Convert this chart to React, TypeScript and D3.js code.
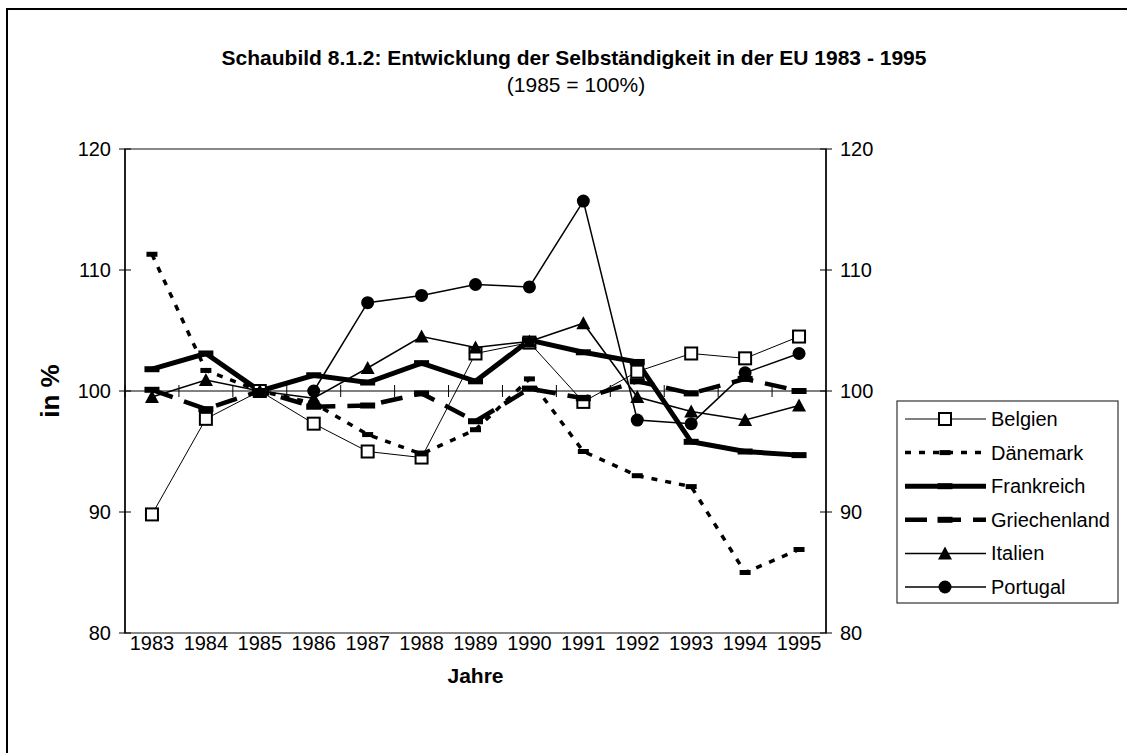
import * as d3 from "d3";

// Jahre und Werte (1985 = 100%)
const years = [1983, 1984, 1985, 1986, 1987, 1988, 1989, 1990, 1991, 1992, 1993, 1994, 1995];

const belgien = [89.8, 97.7, 100, 97.3, 95.0, 94.5, 103.1, 104.0, 99.1, 101.6, 103.1, 102.7, 104.5];
const daenemark = [111.3, 101.7, 100, 99.0, 96.4, 94.8, 96.8, 101.0, 95.0, 93.0, 92.1, 85.0, 86.9];
const frankreich = [101.8, 103.1, 100, 101.3, 100.7, 102.3, 100.8, 104.2, 103.2, 102.4, 95.8, 95.0, 94.7];
const griechenland = [100.1, 98.5, 100, 98.7, 98.8, 99.8, 97.5, 100.2, 99.4, 100.8, 99.8, 101.0, 100.0];
const italien = [99.5, 100.9, 100, 99.4, 101.9, 104.5, 103.6, 104.1, 105.6, 99.5, 98.3, 97.6, 98.8];
const portugal = [null, null, null, 100, 107.3, 107.9, 108.8, 108.6, 115.7, 97.6, 97.3, 101.5, 103.1];

const yTicks = [80, 90, 100, 110, 120];

type Marker = "square" | "bar" | "triangle" | "circle";
type Series = {
  name: string;
  values: (number | null)[];
  width: number;
  dash?: string;
  marker: Marker;
  barW?: number;
  barH?: number;
};

const series: Series[] = [
  { name: "Belgien", values: belgien, width: 1, marker: "square" },
  { name: "Dänemark", values: daenemark, width: 3.5, dash: "6,8", marker: "bar", barW: 11, barH: 5 },
  { name: "Frankreich", values: frankreich, width: 5, marker: "bar", barW: 15, barH: 6 },
  { name: "Griechenland", values: griechenland, width: 4.5, dash: "22,12", marker: "bar", barW: 15, barH: 6 },
  { name: "Italien", values: italien, width: 1.5, marker: "triangle" },
  { name: "Portugal", values: portugal, width: 1.5, marker: "circle" },
];

const W = 1127;
const H = 753;
const plotL = 125;
const plotR = 826;
const plotT = 149;
const plotB = 633;
const font = "'Liberation Sans', Arial, sans-serif";

function drawMarker(m: Marker, cx: number, cy: number, key: string, s: Series) {
  if (m === "square")
    return <rect key={key} x={cx - 6} y={cy - 6} width={12} height={12} fill="white" stroke="black" strokeWidth={2} />;
  if (m === "circle") return <circle key={key} cx={cx} cy={cy} r={6.5} fill="black" />;
  if (m === "triangle")
    return <path key={key} d={`M${cx},${cy - 7}L${cx + 7},${cy + 6}L${cx - 7},${cy + 6}Z`} fill="black" />;
  const bw = s.barW || 12;
  const bh = s.barH || 5;
  return <rect key={key} x={cx - bw / 2} y={cy - bh / 2} width={bw} height={bh} fill="black" />;
}

export default function App() {
  const x = d3.scaleBand<number>().domain(years).range([plotL, plotR]);
  const y = d3.scaleLinear().domain([80, 120]).range([plotB, plotT]);
  const cx = (yr: number) => (x(yr) as number) + x.bandwidth() / 2;
  const y100 = y(100);

  const line = d3
    .line<number | null>()
    .defined((d) => d !== null)
    .x((_, i) => cx(years[i]))
    .y((d) => y(d as number));

  const legX = 897;
  const legY = 401;
  const rowH = 33.6;

  return (
    <svg width={W} height={H} style={{ position: "absolute", left: 0, top: 0, background: "white" }} fontFamily={font}>
      <rect x={7} y={9} width={1200} height={800} fill="white" stroke="black" strokeWidth={2} />

      <text x={574} y={65} textAnchor="middle" fontSize={21} fontWeight="bold">
        Schaubild 8.1.2: Entwicklung der Selbständigkeit in der EU 1983 - 1995
      </text>
      <text x={576} y={92} textAnchor="middle" fontSize={21}>
        (1985 = 100%)
      </text>

      {/* Zeichenfläche */}
      <rect x={plotL} y={plotT} width={plotR - plotL} height={plotB - plotT} fill="none" stroke="#888" strokeWidth={2} />
      <line x1={plotL} x2={plotL} y1={plotT} y2={plotB} stroke="black" strokeWidth={1.5} />
      <line x1={plotR} x2={plotR} y1={plotT} y2={plotB} stroke="black" strokeWidth={1.5} />

      {yTicks.map((t) => (
        <g key={t}>
          <line x1={plotL - 6} x2={plotL + 6} y1={y(t)} y2={y(t)} stroke="black" />
          <line x1={plotR - 6} x2={plotR + 6} y1={y(t)} y2={y(t)} stroke="black" />
          <text x={111} y={y(t) + 7} textAnchor="end" fontSize={20}>
            {t}
          </text>
          <text x={840} y={y(t) + 7} fontSize={20}>
            {t}
          </text>
        </g>
      ))}

      {/* Kategorienachse bei 100 */}
      <line x1={plotL} x2={plotR} y1={y100} y2={y100} stroke="black" strokeWidth={1} />
      {years.map((yr) => (
        <line key={yr} x1={x(yr)} x2={x(yr)} y1={y100 - 6} y2={y100 + 6} stroke="black" />
      ))}
      {years.map((yr) => (
        <text key={"l" + yr} x={cx(yr)} y={650} textAnchor="middle" fontSize={20}>
          {yr}
        </text>
      ))}
      <text x={(plotL + plotR) / 2} y={683} textAnchor="middle" fontSize={21} fontWeight="bold">
        Jahre
      </text>
      <text transform={`translate(59,${y100}) rotate(-90)`} textAnchor="middle" fontSize={26} fontWeight="bold">
        in %
      </text>

      {series.map((s) => (
        <path key={s.name} d={line(s.values) || ""} fill="none" stroke="black" strokeWidth={s.width} strokeDasharray={s.dash} />
      ))}
      {series.map((s) =>
        s.values.map((v, i) => (v === null ? null : drawMarker(s.marker, cx(years[i]), y(v), s.name + i, s)))
      )}

      {/* Legende */}
      <rect x={legX} y={legY} width={221} height={202} fill="white" stroke="#333" strokeWidth={1.2} />
      {series.map((s, i) => {
        const ly = legY + 18 + i * rowH;
        return (
          <g key={"leg" + s.name}>
            <line x1={905} x2={986} y1={ly} y2={ly} stroke="black" strokeWidth={s.width} strokeDasharray={s.dash} />
            {drawMarker(s.marker, 945, ly, "lm" + i, s)}
            <text x={991} y={ly + 7} fontSize={20}>
              {s.name}
            </text>
          </g>
        );
      })}
    </svg>
  );
}
